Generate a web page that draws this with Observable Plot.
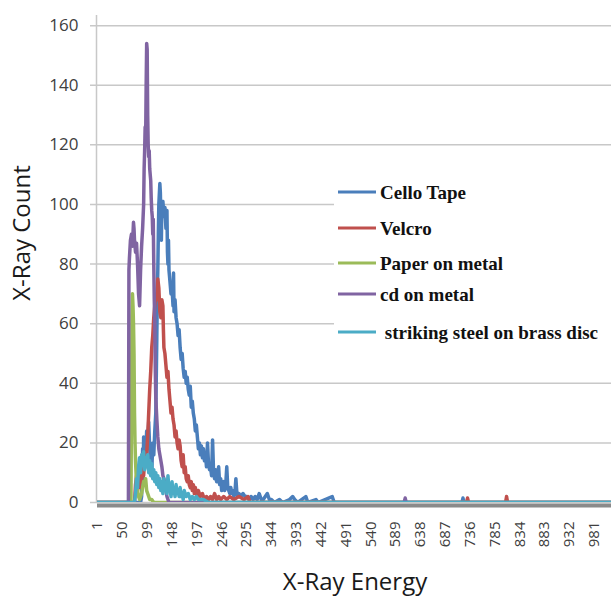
<!DOCTYPE html>
<html><head><meta charset="utf-8">
<script src="https://cdn.jsdelivr.net/npm/d3@7"></script>
<script src="https://cdn.jsdelivr.net/npm/@observablehq/plot@0.6"></script>
<style>body{margin:0;background:#fff}#chart{width:611px;height:597px}</style>
</head><body><div id="chart"></div>
<script>
// ---- data (channel, count) ----
const seriesNames = ["Cello Tape", "Velcro", "Paper on metal", "cd on metal", " striking steel on brass disc"];
const seriesColors = ["#4a7ebb", "#c0504d", "#9bbb59", "#8064a2", "#4bacc6"];

const celloTape = [[1,0],[86,0],[88,2],[90,18],[91,8],[92,22],[94,12],[96,16],[98,24],[100,20],[102,27],[104,18],[106,14],[108,10],[110,20],[112,16],[114,24],[116,30],[118,55],[119,70],[120,78],[121,90],[122,100],[124,107],[125,104],[126,96],[127,88],[128,100],[130,101],[132,96],[134,99],[136,92],[138,98],[139,84],[140,80],[141,88],[142,78],[144,74],[146,70],[148,72],[150,66],[151,77],[152,64],[154,68],[156,62],[158,60],[160,56],[162,58],[164,52],[166,48],[168,50],[170,45],[172,42],[174,44],[176,40],[178,42],[180,38],[182,36],[184,39],[186,32],[188,34],[190,30],[192,28],[194,24],[196,26],[198,22],[200,18],[202,20],[204,16],[206,19],[208,15],[210,18],[212,14],[214,16],[216,12],[218,20],[220,13],[222,11],[224,12],[226,9],[228,21],[230,10],[232,8],[234,11],[236,7],[238,9],[240,12],[242,6],[244,8],[246,4],[248,5],[250,7],[252,4],[254,6],[256,12],[258,5],[260,4],[262,3],[264,5],[266,3],[268,4],[270,2],[272,3],[274,8],[276,3],[278,2],[280,3],[284,2],[288,3],[292,2],[296,2],[300,1],[304,2],[308,1],[312,2],[316,1],[320,3],[324,1],[328,1],[332,2],[336,3],[340,1],[344,1],[350,0],[360,1],[366,0],[380,1],[386,2],[390,1],[396,0],[412,2],[416,0],[432,1],[436,0],[464,2],[468,0],[720,0],[722,1.5],[724,0],[1024,0]];

const velcro = [[1,0],[74,0],[76,6],[78,9],[80,4],[82,8],[84,5],[86,10],[88,7],[90,12],[92,9],[94,14],[96,12],[98,16],[100,22],[102,30],[104,38],[106,44],[108,52],[110,56],[112,62],[114,66],[116,70],[118,68],[120,75],[122,72],[124,64],[126,62],[128,68],[130,66],[131,58],[132,52],[134,50],[136,46],[138,42],[140,44],[142,38],[144,34],[146,30],[148,32],[150,28],[152,26],[154,22],[156,24],[158,20],[160,18],[162,21],[164,19],[166,14],[168,12],[170,16],[172,10],[174,12],[176,8],[178,7],[180,9],[182,6],[184,5],[186,7],[188,4],[190,6],[192,3],[194,5],[196,3],[198,2],[200,4],[204,2],[208,3],[212,1],[216,2],[220,1],[224,2],[228,1],[232,3],[236,1],[240,2],[244,1],[250,2],[256,1],[262,2],[270,1],[280,2],[290,1],[298,2],[302,0],[729,0],[731,1.5],[733,0],[806,0],[808,2],[810,0],[1024,0]];

const paperOnMetal = [[1,0],[67,0],[68,30],[69,62],[70,70],[71,66],[72,60],[73,50],[74,30],[75,20],[76,14],[77,10],[78,6],[80,4],[82,2],[84,1],[86,2],[88,3],[90,5],[92,7],[94,6],[96,8],[98,4],[100,3],[102,2],[104,1],[108,1],[112,0],[1024,0]];

const cdOnMetal = [[1,0],[62,0],[63,78],[64,82],[66,88],[68,90],[70,86],[72,94],[73,92],[74,88],[76,84],[78,87],[80,80],[82,70],[84,66],[86,78],[88,86],[90,92],[92,100],[93,112],[94,118],[95,126],[96,122],[97,140],[98,154],[99,152],[100,130],[101,120],[102,116],[103,118],[104,112],[106,108],[107,102],[108,98],[109,96],[110,90],[111,95],[112,80],[113,68],[114,60],[115,45],[116,35],[118,28],[120,22],[122,18],[124,16],[126,14],[128,12],[130,9],[132,8],[134,6],[136,4],[138,2],[140,1],[142,0],[606,0],[608,1.5],[610,0],[1024,0]];

const strikingSteel = [[1,0],[74,0],[76,3],[78,8],[80,5],[82,12],[84,15],[86,10],[88,16],[90,13],[92,17],[94,11],[96,15],[98,12],[100,16],[102,10],[104,14],[106,9],[108,13],[110,8],[112,11],[114,7],[116,10],[118,6],[120,9],[122,5],[124,8],[126,4],[128,7],[130,3],[132,8],[134,4],[136,6],[138,3],[140,9],[142,4],[144,5],[146,2],[148,7],[150,3],[152,5],[154,2],[156,6],[158,3],[160,4],[162,2],[164,5],[166,2],[168,3],[170,1],[172,4],[176,2],[180,3],[184,1],[188,2],[192,1],[196,2],[200,1],[210,1],[220,0],[1024,0]];

const seriesData = [celloTape, velcro, paperOnMetal, cdOnMetal, strikingSteel];
const yTicks = [0, 20, 40, 60, 80, 100, 120, 140, 160];
const xTicks = [1, 50, 99, 148, 197, 246, 295, 344, 393, 442, 491, 540, 589, 638, 687, 736, 785, 834, 883, 932, 981];
const xTitle = "X-Ray Energy";
const yTitle = "X-Ray Count";

// ---- chart ----
const lines = seriesData.map((pts, i) =>
  Plot.line(pts.map(([ch, v]) => ({ch, v, s: seriesNames[i]})),
    {x: "ch", y: "v", stroke: seriesColors[i], strokeWidth: 3.5, strokeLinejoin: "round", clip: true}));

const plot = Plot.plot({
  width: 611, height: 597,
  marginLeft: 97, marginRight: 0, marginTop: 15, marginBottom: 95,
  x: {domain: [1, 1015]},
  y: {domain: [0, 163.4]},
  style: {fontFamily: "Open Sans", background: "#fff", overflow: "visible"},
  marks: [
    Plot.ruleY(yTicks, {stroke: "#c8c8c8", strokeWidth: 1.5, insetLeft: -7}),
    Plot.ruleX([1], {y1: 0, y2: 163.4, stroke: "#c8c8c8", strokeWidth: 1.5, dx: -1}),
    Plot.ruleY([0], {stroke: "#8a8a8a", strokeWidth: 4, dy: 3}),
    ...lines,
    Plot.axisY({ticks: yTicks, tickSize: 0, tickPadding: 19, fontSize: 17, fill: "#404040", label: null}),
    Plot.axisX({ticks: xTicks, tickRotate: -90, tickSize: 0, tickPadding: 19, fontSize: 15, fill: "#404040", label: null})
  ]
});

const svg = d3.select(plot);
// legend (inside plot area, white box)
const lg = svg.append("g").attr("text-anchor", "start");
lg.append("rect").attr("x", 334).attr("y", 165).attr("width", 277).attr("height", 190).attr("fill", "#fff");
const legendY = [192, 228, 263, 294, 332];
seriesNames.forEach((name, i) => {
  lg.append("line").attr("x1", 338).attr("x2", 376).attr("y1", legendY[i]).attr("y2", legendY[i])
    .attr("stroke", seriesColors[i]).attr("stroke-width", 3);
  lg.append("text").attr("x", 380).attr("y", legendY[i]).attr("dy", "0.35em").attr("text-anchor", "start")
    .attr("font-family", "Liberation Serif").attr("font-weight", "bold").attr("font-size", 19)
    .attr("fill", "#111").style("white-space", "pre").text(name);
});
// axis titles
svg.append("text").attr("transform", "translate(22,233) rotate(-90)").attr("text-anchor", "middle")
  .attr("dy", "0.35em").attr("font-family", "Open Sans").attr("font-size", 24).attr("fill", "#1a1a1a").text(yTitle);
svg.append("text").attr("x", 355).attr("y", 590).attr("text-anchor", "middle")
  .attr("font-family", "Open Sans").attr("font-size", 24).attr("fill", "#1a1a1a").text(xTitle);

document.getElementById("chart").appendChild(plot);
</script>
</body></html>
